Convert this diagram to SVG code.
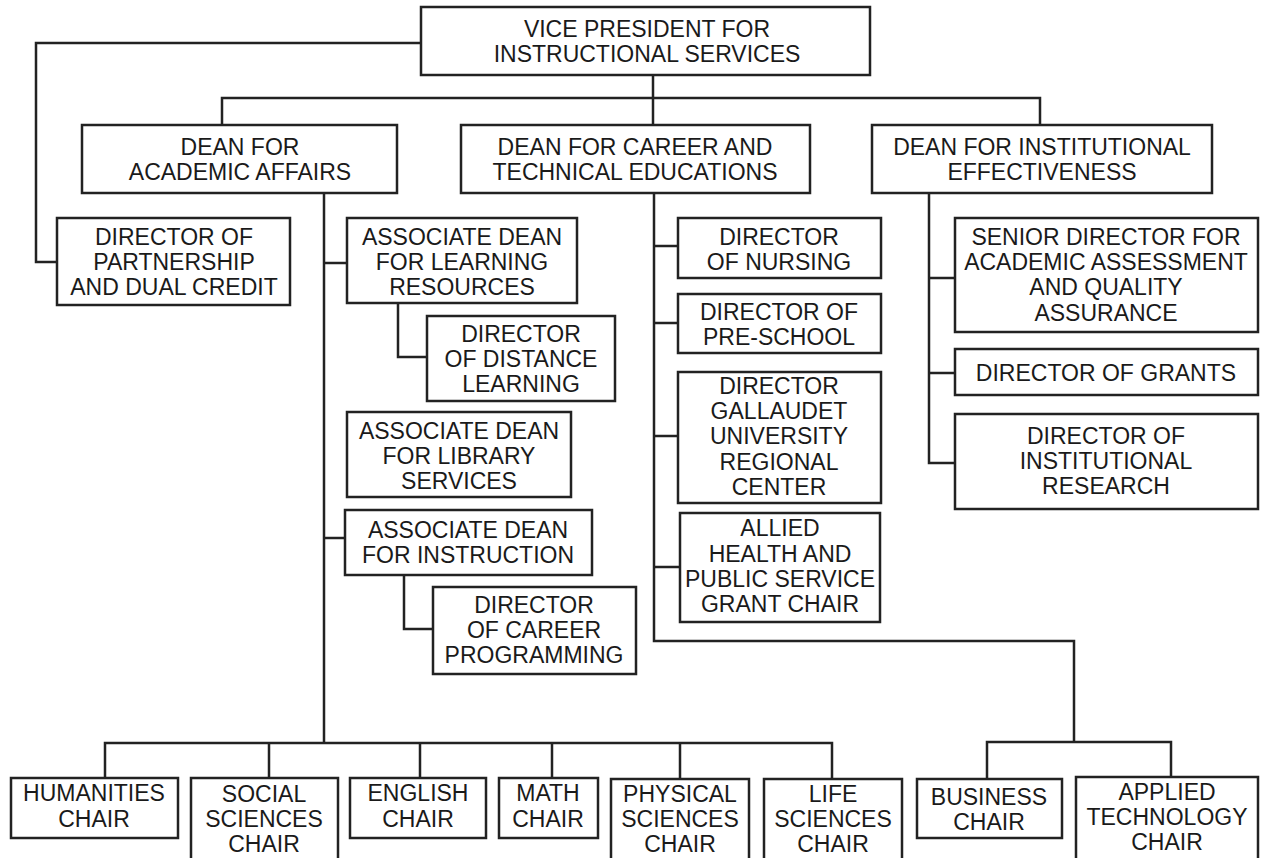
<svg xmlns="http://www.w3.org/2000/svg" width="1268" height="858" viewBox="0 0 1268 858">
<style>
rect.b{fill:#fff;stroke:#222;stroke-width:2.5}
.c path{fill:none;stroke:#222;stroke-width:2.5}
text{font-family:"Liberation Sans",Arial,sans-serif;font-size:23px;fill:#1a1a1a;text-anchor:middle}
</style>
<rect x="0" y="0" width="1268" height="858" fill="#fff"/>
<g class="c" id="connectors">
<path d="M421,43 H36 V262 H57"/>
<path d="M653,75 V125"/>
<path d="M222,125 V98 H1040 V125"/>
<path d="M324,193 V743"/>
<path d="M324,263 H347"/>
<path d="M324,538 H345"/>
<path d="M398,303 V357 H427"/>
<path d="M404,575 V629 H433"/>
<path d="M105,778 V743 H832 V778"/>
<path d="M269,743 V778 M420,743 V778 M552,743 V778 M680,743 V778"/>
<path d="M654,193 V641 H1074 V742"/>
<path d="M654,246 H678 M654,323 H678 M654,436 H678 M654,567 H680"/>
<path d="M987,779 V742 H1171 V777"/>
<path d="M929,193 V463 H955"/>
<path d="M929,278 H955 M929,373 H955"/>
</g>
<g id="vp"><rect class="b" x="421" y="7" width="449" height="68"/><text x="647" y="37">VICE PRESIDENT FOR</text><text x="647" y="62">INSTRUCTIONAL SERVICES</text></g>
<g id="dean-academic"><rect class="b" x="82" y="125" width="315" height="68"/><text x="240" y="155">DEAN FOR</text><text x="240" y="180">ACADEMIC AFFAIRS</text></g>
<g id="dean-career"><rect class="b" x="461" y="125" width="349" height="68"/><text x="635" y="155">DEAN FOR CAREER AND</text><text x="635" y="180">TECHNICAL EDUCATIONS</text></g>
<g id="dean-inst"><rect class="b" x="872" y="125" width="340" height="68"/><text x="1042" y="155">DEAN FOR INSTITUTIONAL</text><text x="1042" y="180">EFFECTIVENESS</text></g>
<g id="dir-partnership"><rect class="b" x="57" y="218" width="233" height="87"/><text x="174" y="245">DIRECTOR OF</text><text x="174" y="270">PARTNERSHIP</text><text x="174" y="295">AND DUAL CREDIT</text></g>
<g id="assoc-learning"><rect class="b" x="347" y="218" width="230" height="85"/><text x="462" y="245">ASSOCIATE DEAN</text><text x="462" y="270">FOR LEARNING</text><text x="462" y="295">RESOURCES</text></g>
<g id="dir-distance"><rect class="b" x="427" y="316" width="188" height="85"/><text x="521" y="342">DIRECTOR</text><text x="521" y="367">OF DISTANCE</text><text x="521" y="392">LEARNING</text></g>
<g id="assoc-library"><rect class="b" x="347" y="412" width="224" height="85"/><text x="459" y="439">ASSOCIATE DEAN</text><text x="459" y="464">FOR LIBRARY</text><text x="459" y="489">SERVICES</text></g>
<g id="assoc-instruction"><rect class="b" x="345" y="510" width="247" height="65"/><text x="468" y="538">ASSOCIATE DEAN</text><text x="468" y="563">FOR INSTRUCTION</text></g>
<g id="dir-career-prog"><rect class="b" x="433" y="587" width="203" height="87"/><text x="534" y="613">DIRECTOR</text><text x="534" y="638">OF CAREER</text><text x="534" y="663">PROGRAMMING</text></g>
<g id="dir-nursing"><rect class="b" x="678" y="218" width="203" height="60"/><text x="779" y="245">DIRECTOR</text><text x="779" y="270">OF NURSING</text></g>
<g id="dir-preschool"><rect class="b" x="678" y="294" width="203" height="59"/><text x="779" y="320">DIRECTOR OF</text><text x="779" y="345">PRE-SCHOOL</text></g>
<g id="dir-gallaudet"><rect class="b" x="678" y="372" width="203" height="131"/><text x="779" y="394">DIRECTOR</text><text x="779" y="419">GALLAUDET</text><text x="779" y="444">UNIVERSITY</text><text x="779" y="470">REGIONAL</text><text x="779" y="495">CENTER</text></g>
<g id="allied-health"><rect class="b" x="680" y="513" width="200" height="109"/><text x="780" y="536">ALLIED</text><text x="780" y="562">HEALTH AND</text><text x="780" y="587">PUBLIC SERVICE</text><text x="780" y="612">GRANT CHAIR</text></g>
<g id="senior-director"><rect class="b" x="955" y="218" width="303" height="114"/><text x="1106" y="245">SENIOR DIRECTOR FOR</text><text x="1106" y="270">ACADEMIC ASSESSMENT</text><text x="1106" y="295">AND QUALITY</text><text x="1106" y="321">ASSURANCE</text></g>
<g id="dir-grants"><rect class="b" x="955" y="349" width="303" height="46"/><text x="1106" y="381">DIRECTOR OF GRANTS</text></g>
<g id="dir-research"><rect class="b" x="955" y="414" width="303" height="95"/><text x="1106" y="444">DIRECTOR OF</text><text x="1106" y="469">INSTITUTIONAL</text><text x="1106" y="494">RESEARCH</text></g>
<g id="humanities"><rect class="b" x="11" y="778" width="167" height="60"/><text x="94" y="801">HUMANITIES</text><text x="94" y="827">CHAIR</text></g>
<g id="social"><rect class="b" x="191" y="778" width="147" height="95"/><text x="264" y="802">SOCIAL</text><text x="264" y="827">SCIENCES</text><text x="264" y="852">CHAIR</text></g>
<g id="english"><rect class="b" x="350" y="778" width="136" height="60"/><text x="418" y="801">ENGLISH</text><text x="418" y="827">CHAIR</text></g>
<g id="math"><rect class="b" x="499" y="778" width="99" height="60"/><text x="548" y="801">MATH</text><text x="548" y="827">CHAIR</text></g>
<g id="physical"><rect class="b" x="611" y="779" width="138" height="95"/><text x="680" y="802">PHYSICAL</text><text x="680" y="827">SCIENCES</text><text x="680" y="852">CHAIR</text></g>
<g id="life"><rect class="b" x="764" y="779" width="138" height="95"/><text x="833" y="802">LIFE</text><text x="833" y="827">SCIENCES</text><text x="833" y="852">CHAIR</text></g>
<g id="business"><rect class="b" x="917" y="779" width="145" height="59"/><text x="989" y="805">BUSINESS</text><text x="989" y="830">CHAIR</text></g>
<g id="applied"><rect class="b" x="1076" y="777" width="182" height="95"/><text x="1167" y="800">APPLIED</text><text x="1167" y="825">TECHNOLOGY</text><text x="1167" y="850">CHAIR</text></g>
</svg>
